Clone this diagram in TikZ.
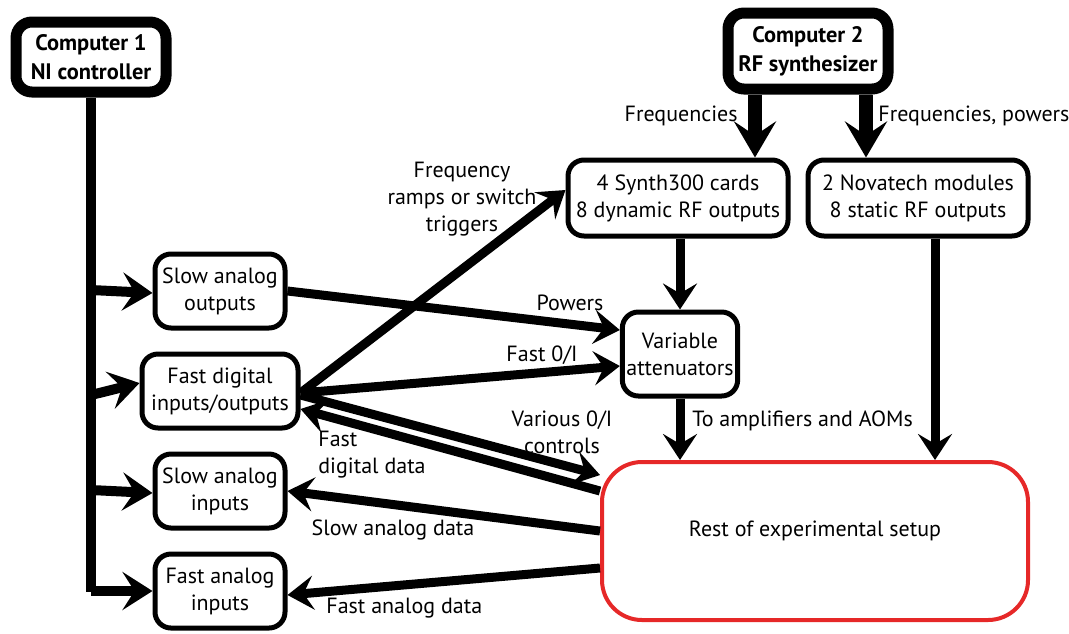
\documentclass[tikz,border=0pt]{standalone}
\usepackage{fontspec}
\setmainfont{PT Sans}
\usetikzlibrary{arrows.meta,positioning,calc}
\definecolor{setupred}{RGB}{230,40,40}
\tikzset{
  box/.style={draw, line width=2.5pt, rounded corners=8pt, align=center, inner sep=2pt},
  pcbox/.style={box, line width=5.5pt, font=\fontsize{11.2}{14.5}\selectfont\bfseries},
  flow/.style={line width=4.5pt, -{Stealth[length=13pt,width=17pt,inset=5pt]}},
  bigflow/.style={line width=7pt, -{Stealth[length=18pt,width=21pt,inset=7pt]}},
  trunk/.style={line width=5pt},
  lbl/.style={align=center, inner sep=1pt},
}
\begin{document}
\begin{tikzpicture}[x=0.5pt, y=-0.5pt, font=\fontsize{11}{13.5}\selectfont]
\useasboundingbox (0,0) rectangle (1069,633);

% computers
\node[pcbox, minimum width=75pt, minimum height=35pt] (comp1) at (91,57) {Computer 1\\NI controller};
\node[pcbox, minimum width=80pt, minimum height=38pt] (comp2) at (808,51) {Computer 2\\RF synthesizer};

% NI cards
\node[box, minimum width=65pt, minimum height=37pt] (sao) at (220,291) {Slow analog\\outputs};
\node[box, minimum width=78pt, minimum height=37pt] (fdio) at (220,391) {Fast digital\\inputs/outputs};
\node[box, minimum width=65pt, minimum height=37pt] (sai) at (220,491) {Slow analog\\inputs};
\node[box, minimum width=65pt, minimum height=37pt] (fai) at (220,591) {Fast analog\\inputs};

% RF chain
\node[box, minimum width=110pt, minimum height=38pt] (synth) at (678,198) {4 Synth300 cards\\8 dynamic RF outputs};
\node[box, minimum width=110pt, minimum height=38pt] (nova) at (918,198) {2 Novatech modules\\8 static RF outputs};
\node[box, minimum width=56pt, minimum height=42pt] (att) at (680,354) {Variable\\attenuators};
\node[box, draw=setupred, line width=2pt, rounded corners=20pt, minimum width=213pt, minimum height=79pt,
  label={[lbl,yshift=5pt]center:Rest of experimental setup}] (rest) at (815,541) {};

% trunk of computer 1
\coordinate (tend) at (91,592);
\draw[trunk] (comp1.south) -- (tend);
\foreach \n/\dy in {sao/-1,fdio/4,sai/-1,fai/0}
  \draw[flow, line width=5pt, -{Stealth[length=15pt,width=19pt,inset=6pt]}]
    (comp1.south |- {$(\n.west)+(0,\dy)$}) -- ([yshift=\dy pt]\n.west);

% computer 2 outputs
\draw[bigflow] (comp2.south -| 755,0) -- (synth.north -| 755,0);
\draw[bigflow] (comp2.south -| 866,0) -- (nova.north -| 866,0);
\node[lbl, anchor=east] (lfreq) at (740,116) {Frequencies};
\node[lbl, anchor=west] (lfreqpow) at (876,116) {Frequencies, powers};

% RF to setup
\draw[flow] (synth.south -| att.north) -- (att.north);
\draw[flow] (nova.south -| 935,0) -- (rest.north -| 935,0);
\draw[flow] (att.south) -- (rest.north -| att.south);
\node[lbl, anchor=west] (lamp) at (690,421) {To amplifiers and AOMs};

% NI outputs
\draw[flow] (sao.east) -- ([yshift=12pt]att.west);
\node[lbl] (lpow) at (570,303) {Powers};
\draw[flow] ([yshift=-1pt]fdio.east) -- ([yshift=-6pt]att.west);
\node[lbl] (lfast) at (542,355) {Fast 0/I};
\draw[flow] ([yshift=-1pt]fdio.east) -- ([yshift=4pt]synth.west);
\node[lbl] (lramp) at (462,199) {Frequency\\ramps or switch\\triggers};
\draw[flow] ([yshift=-2pt]fdio.east) -- ([yshift=33pt]rest.west);
\node[lbl] (lvar) at (562,432) {Various 0/I\\controls};

% data back to NI
\draw[flow] ([yshift=25pt]rest.west) -- ([yshift=-9pt]fdio.east);
\node[lbl, align=left, anchor=west] (ldig) at (316,455) {Fast\\digital data};
\draw[flow] ([yshift=5pt]rest.west) -- (sai.east);
\node[lbl] (lsad) at (393,530) {Slow analog data};
\draw[flow] ([yshift=-13.5pt]rest.west) -- ([yshift=-2pt]fai.east);
\node[lbl, anchor=west] (lfad) at (324,608) {Fast analog data};
\end{tikzpicture}
\end{document}
